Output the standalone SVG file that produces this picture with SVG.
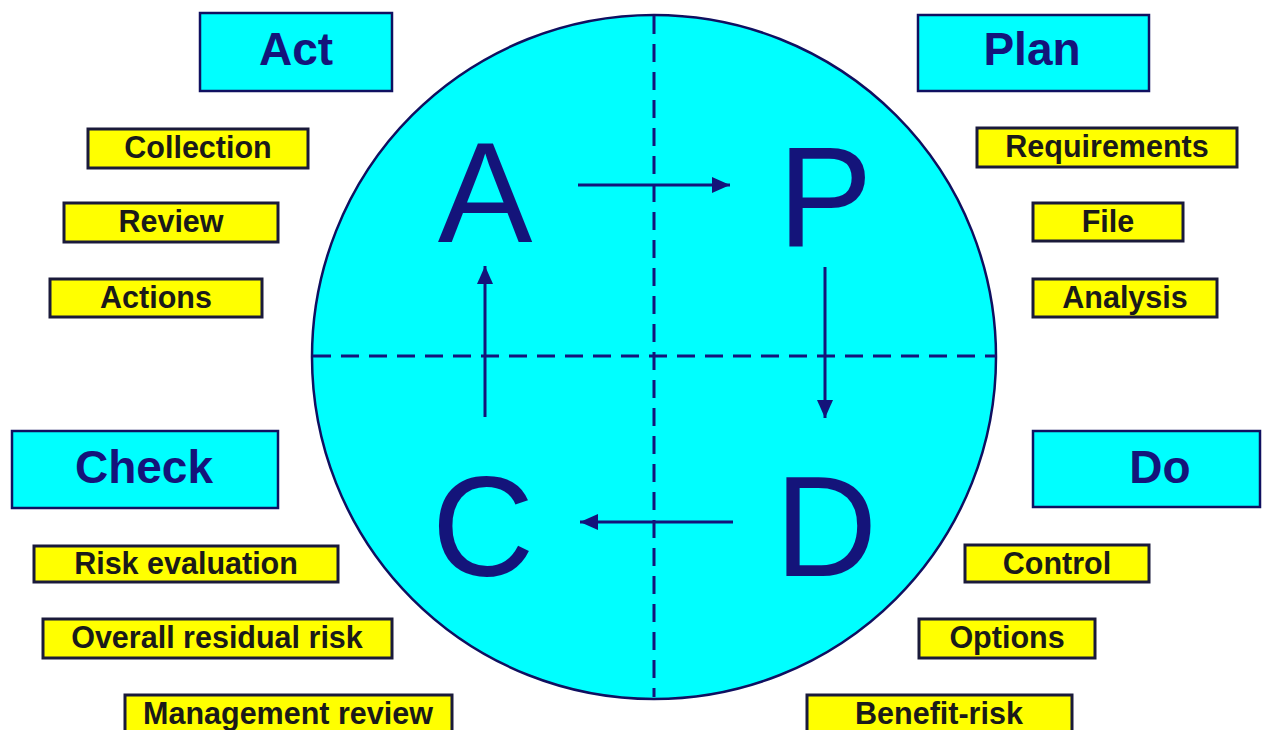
<svg xmlns="http://www.w3.org/2000/svg" width="1264" height="730" viewBox="0 0 1264 730">
  <defs>
    <marker id="arr" markerUnits="userSpaceOnUse" markerWidth="20" markerHeight="16" refX="18" refY="8" orient="auto">
      <path d="M0,0 L18,8 L0,16 Z" fill="#14147a"/>
    </marker>
  </defs>
  <style>
    .hdr { fill: #00ffff; stroke: #101060; stroke-width: 2.5; }
    .hdrt { font-family: "Liberation Sans", Arial, sans-serif; font-weight: bold; font-size: 46px; fill: #14147a; text-anchor: middle; }
    .itm { fill: #ffff00; stroke: #1a1a3a; stroke-width: 3; }
    .itmt { font-family: "Liberation Sans", Arial, sans-serif; font-weight: bold; font-size: 30.5px; fill: #1a1a1a; text-anchor: middle; }
    .big { font-family: "Liberation Sans", Arial, sans-serif; font-size: 142px; fill: #14147a; text-anchor: middle; }
    .dash { stroke: #14147a; stroke-width: 3; stroke-dasharray: 18 10; fill: none; }
    .conn { stroke: #14147a; stroke-width: 3; fill: none; marker-end: url(#arr); }
  </style>
  <rect width="1264" height="730" fill="#ffffff"/>

  <g id="cycle">
    <circle cx="654" cy="357" r="342" fill="#00ffff" stroke="#101060" stroke-width="2.5"/>
    <line class="dash" x1="654" y1="16" x2="654" y2="697"/>
    <line class="dash" x1="313" y1="356" x2="996" y2="356"/>
  </g>

  <g id="letter-A"><text class="big" x="485" y="242">A</text></g>
  <g id="letter-P"><text class="big" x="825" y="246">P</text></g>
  <g id="letter-C"><text class="big" x="483" y="576">C</text></g>
  <g id="letter-D"><text class="big" x="826" y="576">D</text></g>

  <g id="connectors">
    <line class="conn" x1="578" y1="185" x2="730" y2="185"/>
    <line class="conn" x1="825" y1="267" x2="825" y2="418"/>
    <line class="conn" x1="733" y1="522" x2="580" y2="522"/>
    <line class="conn" x1="485" y1="417" x2="485" y2="266"/>
  </g>

  <g id="act"><rect class="hdr" x="200" y="13" width="192" height="78"/><text class="hdrt" x="296" y="65">Act</text></g>
  <g id="plan"><rect class="hdr" x="918" y="15" width="231" height="76"/><text class="hdrt" x="1032" y="65">Plan</text></g>
  <g id="check"><rect class="hdr" x="12" y="431" width="266" height="77"/><text class="hdrt" x="144" y="483">Check</text></g>
  <g id="do"><rect class="hdr" x="1033" y="431" width="227" height="76"/><text class="hdrt" x="1160" y="483">Do</text></g>

  <g id="collection"><rect class="itm" x="88" y="129" width="220" height="39"/><text class="itmt" x="198" y="158">Collection</text></g>
  <g id="review"><rect class="itm" x="64" y="203" width="214" height="39"/><text class="itmt" x="171" y="232">Review</text></g>
  <g id="actions"><rect class="itm" x="50" y="279" width="212" height="38"/><text class="itmt" x="156" y="308">Actions</text></g>

  <g id="requirements"><rect class="itm" x="977" y="128" width="260" height="39"/><text class="itmt" x="1107" y="157">Requirements</text></g>
  <g id="file"><rect class="itm" x="1033" y="203" width="150" height="38"/><text class="itmt" x="1108" y="232">File</text></g>
  <g id="analysis"><rect class="itm" x="1033" y="279" width="184" height="38"/><text class="itmt" x="1125" y="308">Analysis</text></g>

  <g id="risk-evaluation"><rect class="itm" x="34" y="546" width="304" height="36"/><text class="itmt" x="186" y="574">Risk evaluation</text></g>
  <g id="overall-residual-risk"><rect class="itm" x="43" y="619" width="349" height="39"/><text class="itmt" x="217" y="648">Overall residual risk</text></g>
  <g id="management-review"><rect class="itm" x="125" y="695" width="327" height="40"/><text class="itmt" x="288" y="724">Management review</text></g>

  <g id="control"><rect class="itm" x="965" y="545" width="184" height="37"/><text class="itmt" x="1057" y="574">Control</text></g>
  <g id="options"><rect class="itm" x="919" y="619" width="176" height="39"/><text class="itmt" x="1007" y="648">Options</text></g>
  <g id="benefit-risk"><rect class="itm" x="807" y="695" width="265" height="40"/><text class="itmt" x="939" y="724">Benefit-risk</text></g>
</svg>
